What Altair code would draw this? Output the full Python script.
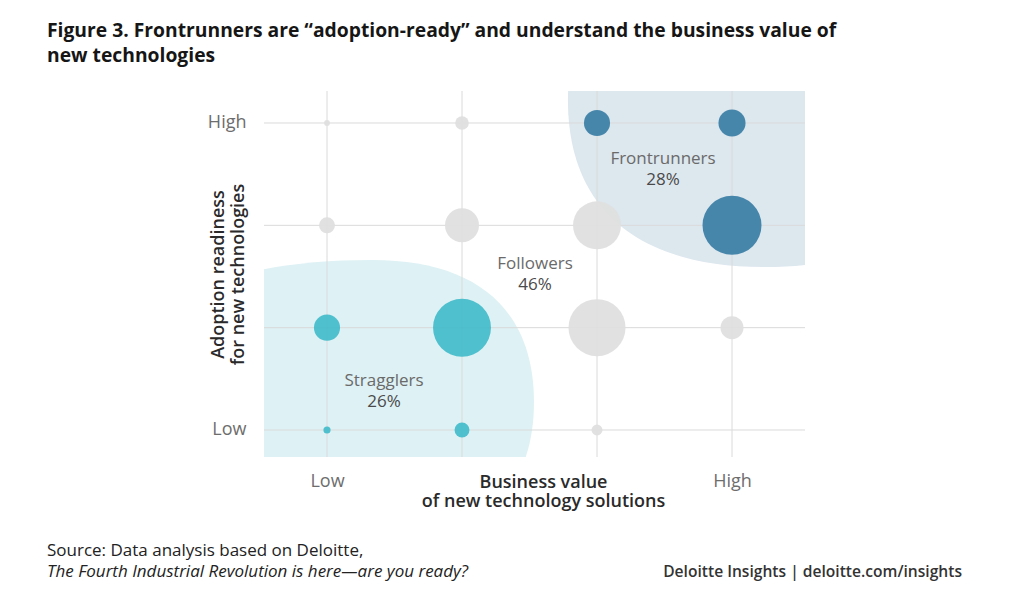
import altair as alt
import pandas as pd

# ---------------- data ----------------
title_lines = ["Figure 3. Frontrunners are “adoption-ready” and understand the business value of",
               "new technologies"]
source_line1 = "Source: Data analysis based on Deloitte,"
source_line2 = "The Fourth Industrial Revolution is here—are you ready?"
brand_line = "Deloitte Insights | deloitte.com/insights"

x_title = ["Business value", "of new technology solutions"]
y_title = ["Adoption readiness", "for new technologies"]

levels = [1, 2, 3, 4]

# bubble grid: business value (x), adoption readiness (y), share of companies (%)
bubble_x = [1, 2, 3, 4, 1, 2, 3, 4, 1, 2, 3, 4, 1, 2, 3]
bubble_y = [4, 4, 4, 4, 3, 3, 3, 3, 2, 2, 2, 2, 1, 1, 1]
bubble_share = [0.2, 1.1, 4.0, 4.3, 1.5, 6.8, 13.5, 20.4, 4.0, 19.7, 19.1, 3.1, 0.3, 1.3, 0.7]
bubble_group = ["Followers", "Followers", "Frontrunners", "Frontrunners",
                "Followers", "Followers", "Followers", "Frontrunners",
                "Stragglers", "Stragglers", "Followers", "Followers",
                "Stragglers", "Stragglers", "Followers"]

group_names = ["Frontrunners", "Followers", "Stragglers"]
group_pct = ["28%", "46%", "26%"]
label_x = [3.489, 2.541, 1.422]
label_y = [3.546, 2.519, 1.381]

# centres of the shaded segment regions
region_x = [4.244, 1.333]
region_y = [4.224, 1.273]

# ---------------- styling ----------------
FONT = "Open Sans"
W, H = 541, 366
XDOM = [0.5333, 4.5407]
YDOM = [0.7361, 4.3127]


def blob(ar, al, bt, bb, k=0.65):
    """Rounded (superellipse-like) outline as an SVG path, unit = 100px."""
    return (f"M{ar},0 C{ar},{bb*k} {ar*k},{bb} 0,{bb} "
            f"C{-al*k},{bb} {-al},{bb*k} {-al},0 "
            f"C{-al},{-bt*k} {-al*k},{-bt} 0,{-bt} "
            f"C{ar*k},{-bt} {ar},{-bt*k} {ar},0 Z")


front_path = blob(1.97, 1.97, 1.67, 1.67)
strag_path = blob(1.62, 2.50, 1.42, 1.42)

xs = alt.Scale(domain=XDOM, nice=False, zero=False)
ys = alt.Scale(domain=YDOM, nice=False, zero=False)

bubbles = pd.DataFrame({"x": bubble_x, "y": bubble_y, "share": bubble_share, "group": bubble_group})
labels = pd.DataFrame({"x": label_x, "y": label_y, "name": group_names, "pct": group_pct})
regions = pd.DataFrame({"x": region_x, "y": region_y, "name": ["Frontrunners", "Stragglers"]})
grid = pd.DataFrame({"v": levels})
one = pd.DataFrame({"a": [0]})

x_axis = alt.Axis(values=[1, 4], labelExpr="datum.value == 1 ? 'Low' : 'High'",
                  grid=False, ticks=False, domain=False, labelFont=FONT, labelFontSize=18,
                  labelColor="#6d6d6d", labelPadding=15, title=x_title, titleFont=FONT,
                  titleFontSize=18, titleFontWeight=600, titleColor="#2a2a2a",
                  titleX=279, titleY=30, titleAlign="center", titleBaseline="alphabetic",
                  titleLineHeight=19, labelFlush=False)
y_axis = alt.Axis(values=[1, 4], labelExpr="datum.value == 1 ? 'Low' : 'High'",
                  grid=False, ticks=False, domain=False, labelFont=FONT, labelFontSize=18,
                  labelColor="#6d6d6d", labelPadding=18, title=y_title, titleFont=FONT,
                  titleFontSize=18, titleFontWeight=600, titleColor="#2a2a2a",
                  titleX=-41, titleY=H / 2, titleAlign="center", titleBaseline="alphabetic",
                  titleAngle=270, titleLineHeight=20, labelFlush=False)

base_axes = alt.Chart(grid).mark_point(opacity=0).encode(
    x=alt.X("v:Q", scale=xs, axis=x_axis),
    y=alt.Y("v:Q", scale=ys, axis=y_axis),
)

front_region = alt.Chart(regions).transform_filter(alt.datum.name == "Frontrunners").mark_point(
    shape=front_path, size=40000, filled=True, color="#dde7ee", opacity=1, clip=True
).encode(x=alt.X("x:Q", scale=xs), y=alt.Y("y:Q", scale=ys))

strag_region = alt.Chart(regions).transform_filter(alt.datum.name == "Stragglers").mark_point(
    shape=strag_path, size=40000, filled=True, color="#def1f4", opacity=1, clip=True
).encode(x=alt.X("x:Q", scale=xs), y=alt.Y("y:Q", scale=ys))

vgrid = alt.Chart(grid).mark_rule(color="#dadada", strokeWidth=1).encode(x=alt.X("v:Q", scale=xs))
hgrid = alt.Chart(grid).mark_rule(color="#dadada", strokeWidth=1).encode(y=alt.Y("v:Q", scale=ys))

bubble_layer = alt.Chart(bubbles).mark_circle(opacity=0.94).encode(
    x=alt.X("x:Q", scale=xs),
    y=alt.Y("y:Q", scale=ys),
    size=alt.Size("share:Q", scale=alt.Scale(domain=[0, 100], range=[0, 17047], zero=True), legend=None),
    color=alt.Color("group:N", scale=alt.Scale(domain=group_names,
                                               range=["#3e7fa7", "#dfdfdf", "#46bccb"]), legend=None),
)

name_text = alt.Chart(labels).mark_text(font=FONT, fontSize=17, color="#6a6a6a", dy=-10.5).encode(
    x=alt.X("x:Q", scale=xs), y=alt.Y("y:Q", scale=ys), text="name:N")
pct_text = alt.Chart(labels).mark_text(font=FONT, fontSize=17, color="#4a4a4a", dy=10.5).encode(
    x=alt.X("x:Q", scale=xs), y=alt.Y("y:Q", scale=ys), text="pct:N")

title_text = alt.Chart(one).mark_text(
    text=title_lines, x=-217, y=-54, align="left", baseline="alphabetic", font=FONT,
    fontSize=19.3, fontWeight="bold", lineHeight=25, color="#161616")
src1 = alt.Chart(one).mark_text(
    text=source_line1, x=-217, y=465, align="left", baseline="alphabetic", font=FONT,
    fontSize=17, color="#222222")
src2 = alt.Chart(one).mark_text(
    text=source_line2, x=-217, y=486, align="left", baseline="alphabetic", font=FONT,
    fontSize=17, fontStyle="italic", color="#222222")
brand = alt.Chart(one).mark_text(
    text=brand_line, x=698, y=486, align="right", baseline="alphabetic", font=FONT,
    fontSize=15.6, fontWeight=600, color="#333333")

chart = alt.layer(
    base_axes, front_region, strag_region, vgrid, hgrid, bubble_layer,
    name_text, pct_text, title_text, src1, src2, brand
).properties(
    width=W, height=H,
    autosize=alt.AutoSizeParams(type="none"),
    padding={"left": 256, "top": 83, "right": 211, "bottom": 144},
    background="white",
).configure_view(fill="#f8f8f8", stroke=None)

chart.save("out.html", embed_options={"renderer": "svg", "actions": False})
